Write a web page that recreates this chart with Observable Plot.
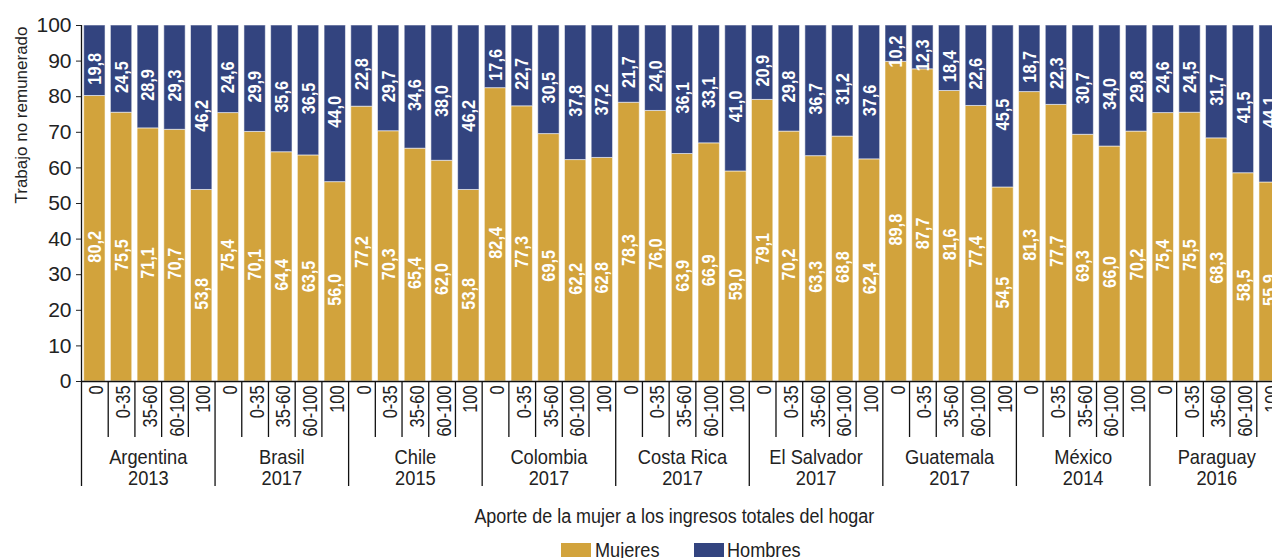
<!DOCTYPE html>
<html>
<head>
<meta charset="utf-8">
<script src="https://cdn.jsdelivr.net/npm/d3@7"></script>
<script src="https://cdn.jsdelivr.net/npm/@observablehq/plot@0.6"></script>
<style>
  html, body { margin: 0; padding: 0; background: #fff; overflow: hidden; width: 1272px; height: 558px; }
  #wrap { position: relative; width: 1272px; height: 558px; overflow: hidden; }
  #chart { position: absolute; left: 0; top: 0; width: 1300px; }
  .txt { font-family: "Liberation Sans", Arial, sans-serif; color: #222; line-height: 1; white-space: nowrap; }
  #xtitle { position: absolute; left: 0; width: 1348px; top: 506.5px; text-align: center; font-size: 19.5px; }
  #xtitle span { display: inline-block; transform: scaleX(0.92); transform-origin: 50% 50%; }
  .sw { position: absolute; width: 30px; height: 14px; top: 543px; }
  .lt { position: absolute; top: 540.5px; font-size: 19.5px; transform: scaleX(0.93); transform-origin: 0 50%; }
</style>
</head>
<body>
<div id="wrap">
  <div id="chart"></div>
  <div id="xtitle" class="txt"><span>Aporte de la mujer a los ingresos totales del hogar</span></div>
</div>
<script>
// ---- Data ----
const countries = ["Argentina", "Brasil", "Chile", "Colombia", "Costa Rica", "El Salvador", "Guatemala", "México", "Paraguay"];
const years = ["2013", "2017", "2015", "2017", "2017", "2017", "2017", "2014", "2016"];
const bins = ["0", "0-35", "35-60", "60-100", "100"];
const seriesNames = ["Mujeres", "Hombres"];
const seriesColors = ["#D2A33C", "#33447F"];

const mujeres = [
  [80.2, 75.5, 71.1, 70.7, 53.8],
  [75.4, 70.1, 64.4, 63.5, 56.0],
  [77.2, 70.3, 65.4, 62.0, 53.8],
  [82.4, 77.3, 69.5, 62.2, 62.8],
  [78.3, 76.0, 63.9, 66.9, 59.0],
  [79.1, 70.2, 63.3, 68.8, 62.4],
  [89.8, 87.7, 81.6, 77.4, 54.5],
  [81.3, 77.7, 69.3, 66.0, 70.2],
  [75.4, 75.5, 68.3, 58.5, 55.9]
];
const hombres = [
  [19.8, 24.5, 28.9, 29.3, 46.2],
  [24.6, 29.9, 35.6, 36.5, 44.0],
  [22.8, 29.7, 34.6, 38.0, 46.2],
  [17.6, 22.7, 30.5, 37.8, 37.2],
  [21.7, 24.0, 36.1, 33.1, 41.0],
  [20.9, 29.8, 36.7, 31.2, 37.6],
  [10.2, 12.3, 18.4, 22.6, 45.5],
  [18.7, 22.3, 30.7, 34.0, 29.8],
  [24.6, 24.5, 31.7, 41.5, 44.1]
];
const yTicks = [0, 10, 20, 30, 40, 50, 60, 70, 80, 90, 100];
const yLabel = "Trabajo no remunerado";

// ---- Build tables ----
const keyOf = (c, b) => c + "|" + b;
const keys = [];
const rows = [];
const binRows = [];
countries.forEach((c, ci) => {
  bins.forEach((b, bi) => {
    const k = keyOf(c, b);
    keys.push(k);
    binRows.push({key: k, bin: b, first: bi === 0, idx: ci * bins.length + bi});
    const m = mujeres[ci][bi], h = hombres[ci][bi];
    rows.push({key: k, sex: "Mujeres", value: m, y1: 0, y2: m});
    rows.push({key: k, sex: "Hombres", value: h, y1: m, y2: m + h});
  });
});
const countryRows = countries.map((c, i) => ({key: keyOf(c, bins[2]), label: c + "\n" + years[i]}));

// ---- Layout ----
const W = 1283, H = 500, ML = 81, MT = 25, MB = 119, MR = 0;
const pIn = 0.2, pOut = 0.1;
const step = (W - ML - MR) / (keys.length - pIn + 2 * pOut);
const pxPerUnit = (H - MT - MB) / 100;
const shortSep = -56 / pxPerUnit;   // separator depth below axis (in y units)
const longSep = -105 / pxPerUnit;
const font = "'Liberation Sans', Arial, sans-serif";
const fmt = v => v.toFixed(1).replace(".", ",");

const chart = Plot.plot({
  width: W, height: H,
  marginLeft: ML, marginTop: MT, marginBottom: MB, marginRight: MR,
  style: {fontFamily: font, fontSize: "21px", color: "#222", background: "white", overflow: "visible", maxWidth: "none"},
  x: {type: "band", domain: keys, paddingInner: pIn, paddingOuter: pOut, round: false, axis: null},
  y: {domain: [0, 100], ticks: yTicks.length - 1, tickSize: 5, tickPadding: 5, label: null, tickFormat: d => String(d)},
  color: {domain: seriesNames, range: seriesColors},
  marks: [
    Plot.barY(rows, {x: "key", y1: "y1", y2: "y2", fill: "sex", stroke: "#ffffff", strokeOpacity: 0.55, strokeWidth: 1}),
    Plot.text(rows, {x: "key", y: d => (d.y1 + d.y2) / 2, text: d => fmt(d.value), rotate: -90, fill: "white",
      fontWeight: "bold", fontSize: 19, dy: 8, fontFamily: font, ariaDescription: "vlabels"}),
    // bottom axis line
    Plot.ruleY([0], {stroke: "#111", strokeWidth: 1.5}),
    // left axis line, extended into the category area
    Plot.ruleX([keys[0]], {x: d => d, y1: 100, y2: longSep, dx: -step / 2, stroke: "#111", strokeWidth: 1.3}),
    // separators between bins
    Plot.ruleX(binRows.filter(d => !d.first), {x: "key", y1: 0, y2: shortSep, dx: -step / 2, stroke: "#111", strokeWidth: 1.3}),
    // separators between countries
    Plot.ruleX(binRows.filter(d => d.first && d.idx > 0), {x: "key", y1: 0, y2: longSep, dx: -step / 2, stroke: "#111", strokeWidth: 1.3}),
    Plot.ruleX([keys[keys.length - 1]], {x: d => d, y1: 0, y2: longSep, dx: step / 2, stroke: "#111", strokeWidth: 1.3}),
    // bin labels
    Plot.text(binRows, {x: "key", y: 0, text: "bin", rotate: -90, textAnchor: "end", dy: 4, dx: 2,
      fontSize: 20.5, fill: "#222", fontFamily: font, ariaDescription: "binlabels"}),
    // country labels
    Plot.text(countryRows, {x: "key", y: 0, text: "label", dy: 86, fontSize: 21, lineHeight: 1,
      fill: "#222", fontFamily: font, ariaDescription: "countrylabels"}),
    // y label
    Plot.text([yLabel], {frameAnchor: "left", dx: -60, rotate: -90, text: d => d, fontSize: 17,
      fill: "#222", fontFamily: font, ariaDescription: "ylabel"})
  ]
});
document.getElementById("chart").appendChild(chart);

// Condense text horizontally (no condensed font is installed)
function squeeze(selector, sx) {
  chart.querySelectorAll(selector).forEach(t => {
    const tr = t.getAttribute("transform");
    if (tr) t.setAttribute("transform", tr + ` scale(${sx},1)`);
    else {
      const x = +t.getAttribute("x") || 0, y = +t.getAttribute("y") || 0;
      t.removeAttribute("x"); t.removeAttribute("y");
      t.setAttribute("transform", `translate(${x},${y}) scale(${sx},1)`);
    }
  });
}
squeeze('g[aria-description="vlabels"] text', 0.86);
squeeze('g[aria-description="binlabels"] text', 0.8);
squeeze('g[aria-description="countrylabels"] text', 0.87);

// ---- Legend ----
const wrap = document.getElementById("wrap");
const legendPos = [{sw: 561, tx: 595}, {sw: 694, tx: 727}];
seriesNames.forEach((name, i) => {
  const sw = document.createElement("div");
  sw.className = "sw";
  sw.style.left = legendPos[i].sw + "px";
  sw.style.background = seriesColors[i];
  const t = document.createElement("div");
  t.className = "txt lt";
  t.style.left = legendPos[i].tx + "px";
  t.textContent = name;
  wrap.appendChild(sw);
  wrap.appendChild(t);
});
</script>
</body>
</html>
